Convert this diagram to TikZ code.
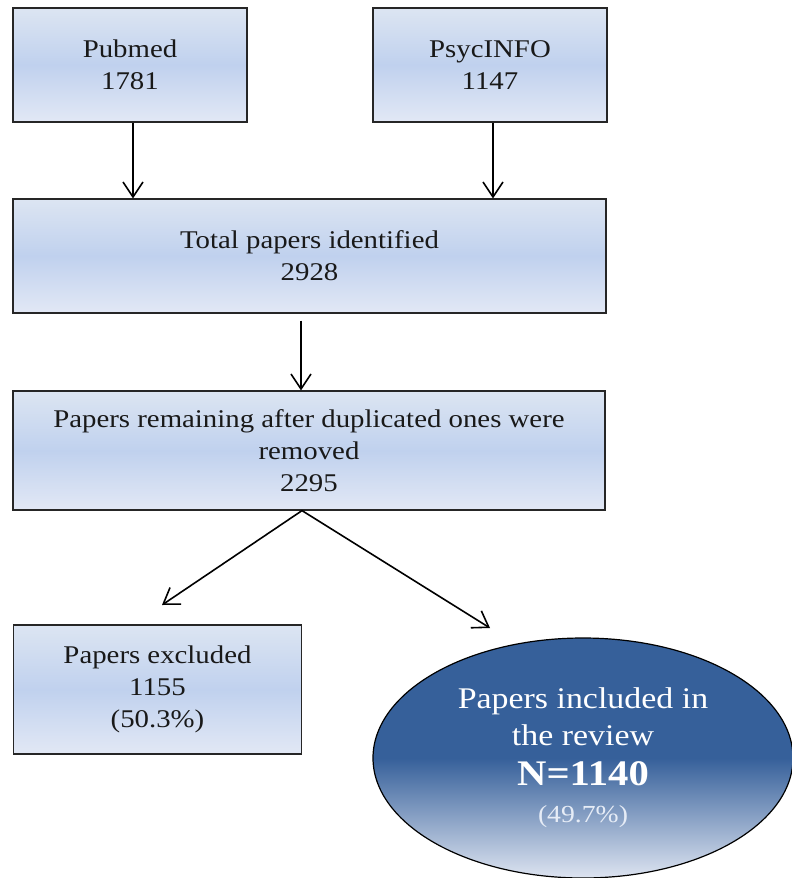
\documentclass[tikz,border=0pt]{standalone}
\usepackage{fontspec}
\setmainfont[FakeStretch=1.13]{Liberation Serif}
\usetikzlibrary{arrows.meta,calc,shapes.geometric}
\definecolor{boxtop}{HTML}{DCE5F2}
\definecolor{boxmid}{HTML}{C0D1EE}
\definecolor{boxbot}{HTML}{E2E8F5}
\definecolor{elldark}{HTML}{36609A}
\definecolor{elllight}{HTML}{E0E6F2}
\definecolor{pctcol}{HTML}{E6ECF6}
\begin{document}
\begin{tikzpicture}[x=1pt,y=-1pt,
  stagebox/.style={draw=black!85, line width=1.2pt, top color=boxtop, bottom color=boxbot, middle color=boxmid,
    align=center, inner sep=0pt, text=black!90, font=\fontsize{25.5}{32}\selectfont},
  arr/.style={line width=1.6pt, -{Straight Barb[length=15pt,width=20pt,line width=1.6pt]}}]
\useasboundingbox (0,0) rectangle (792,878);
% nodes
\node[stagebox, minimum width=234pt, minimum height=114pt] (pub) at (130,65) {Pubmed\\1781};
\node[stagebox, minimum width=234pt, minimum height=114pt] (psy) at (490,65) {PsycINFO\\1147};
\node[stagebox, minimum width=593pt, minimum height=114pt] (tot) at (309.5,256) {Total papers identified\\2928};
\node[stagebox, minimum width=592pt, minimum height=119pt] (rem) at (309,450.5) {Papers remaining after duplicated ones were\\removed\\2295};
\node[stagebox, minimum width=288pt, minimum height=129pt] (exc) at (157.5,689.5) {Papers excluded\\1155\\(50.3\%)};
% ellipse shading
\coordinate (ec) at (583,758);
\begin{scope}
  \clip (ec) ellipse [x radius=210pt, y radius=120pt];
  \fill[elldark] (373,637) rectangle (794,759);
  \shade[top color=elldark, bottom color=elllight] (373,758) rectangle (794,880);
\end{scope}
\node[draw=black, line width=1.2pt, ellipse, minimum width=420pt, minimum height=240pt, inner sep=0pt,
  align=center, text=white, font=\fontsize{30}{37}\selectfont] (inc) at (ec)
  {Papers included in\\
   the review\\[3pt]
   {\fontsize{36}{37}\selectfont\bfseries N=1140}\\[0pt]
   {\fontsize{24.5}{37}\selectfont\color{pctcol}(49.7\%)}};
% connectors
\coordinate (excend) at (162,605);
\coordinate (incend) at (490,628);
\draw[arr] ([xshift=3pt]pub.south) -- ([xshift=3pt]pub.south |- tot.north);
\draw[arr] ([xshift=3pt]psy.south) -- ([xshift=3pt]psy.south |- tot.north);
\draw[arr] ([xshift=-8.5pt,yshift=-7pt]tot.south) -- ([xshift=-8.5pt]tot.south |- rem.north);
\draw[arr] ([xshift=-7pt]rem.south) -- (excend);
\draw[arr] ([xshift=-7pt]rem.south) -- (incend);
\end{tikzpicture}
\end{document}
